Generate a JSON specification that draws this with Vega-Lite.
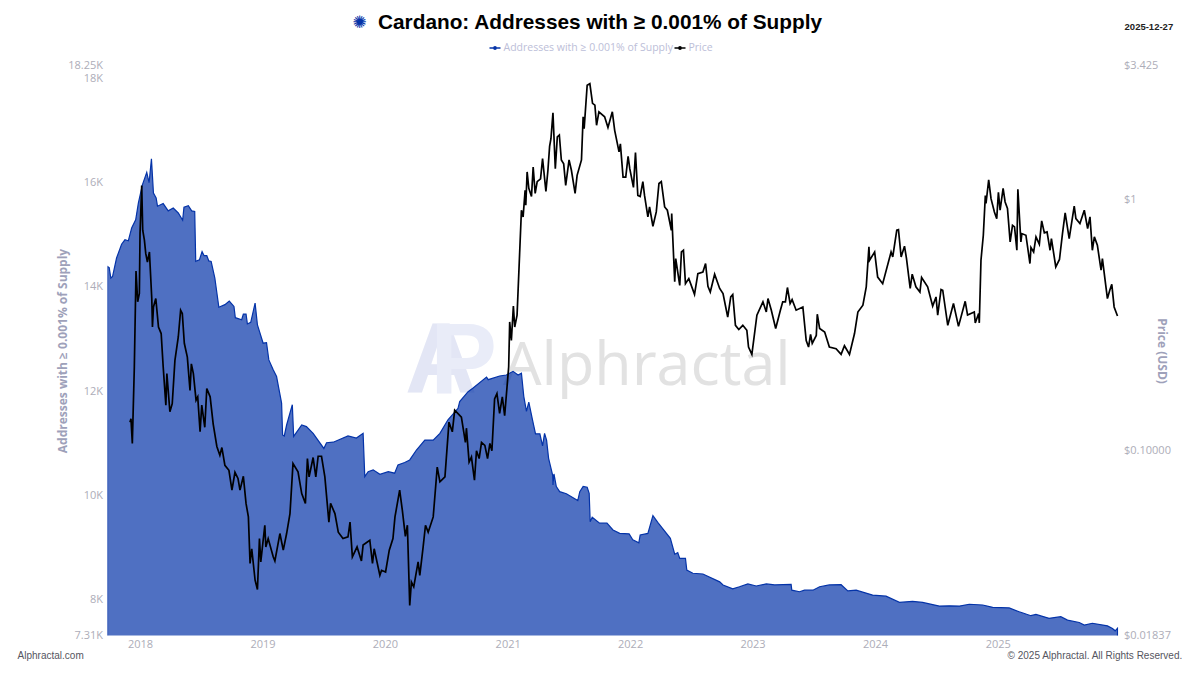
{
  "$schema": "https://vega.github.io/schema/vega-lite/v6.json",
  "width": 1011,
  "height": 570,
  "autosize": {"type": "none"},
  "padding": {"left": 107.5, "top": 65.5, "right": 81.5, "bottom": 39.5},
  "background": "#ffffff",
  "title": {
    "text": "Cardano: Addresses with ≥ 0.001% of Supply",
    "font": "Liberation Sans",
    "fontSize": 20.8,
    "fontWeight": "bold",
    "color": "#000000",
    "anchor": "middle",
    "dx": -13,
    "offset": -20
  },
  "datasets": {
    "addresses": [
      {"date":"2017-09-26","addresses":14390},{"date":"2017-10-01","addresses":14370},{"date":"2017-10-06","addresses":14170},{"date":"2017-10-11","addresses":14200},{"date":"2017-10-23","addresses":14555},{"date":"2017-11-07","addresses":14820},{"date":"2017-11-17","addresses":14905},{"date":"2017-11-27","addresses":14885},{"date":"2017-12-07","addresses":15130},{"date":"2017-12-19","addresses":15290},{"date":"2017-12-27","addresses":15610},
      {"date":"2018-01-08","addresses":15960},{"date":"2018-01-21","addresses":16200},{"date":"2018-01-28","addresses":16000},{"date":"2018-02-04","addresses":16460},{"date":"2018-02-10","addresses":15800},{"date":"2018-02-18","addresses":15710},{"date":"2018-02-22","addresses":15550},{"date":"2018-03-11","addresses":15600},{"date":"2018-03-26","addresses":15460},{"date":"2018-04-10","addresses":15515},{"date":"2018-04-25","addresses":15420},{"date":"2018-05-08","addresses":15280},{"date":"2018-05-12","addresses":15530},{"date":"2018-05-25","addresses":15560},{"date":"2018-06-04","addresses":15460},{"date":"2018-06-13","addresses":15450},{"date":"2018-06-16","addresses":14490},{"date":"2018-06-27","addresses":14520},{"date":"2018-07-05","addresses":14680},{"date":"2018-07-11","addresses":14600},{"date":"2018-07-19","addresses":14600},{"date":"2018-07-25","addresses":14500},{"date":"2018-08-01","addresses":14490},{"date":"2018-08-12","addresses":14170},{"date":"2018-08-24","addresses":13610},{"date":"2018-09-11","addresses":13660},{"date":"2018-09-24","addresses":13730},{"date":"2018-10-08","addresses":13625},{"date":"2018-10-12","addresses":13410},{"date":"2018-10-31","addresses":13370},{"date":"2018-11-05","addresses":13480},{"date":"2018-11-13","addresses":13480},{"date":"2018-11-17","addresses":13290},{"date":"2018-11-27","addresses":13320},{"date":"2018-12-10","addresses":13690},{"date":"2018-12-17","addresses":13270},
      {"date":"2019-01-03","addresses":12920},{"date":"2019-01-13","addresses":12930},{"date":"2019-01-20","addresses":12600},{"date":"2019-02-02","addresses":12410},{"date":"2019-02-12","addresses":12280},{"date":"2019-02-27","addresses":11770},{"date":"2019-03-02","addresses":11160},{"date":"2019-03-07","addresses":11140},{"date":"2019-03-14","addresses":11350},{"date":"2019-03-31","addresses":11740},{"date":"2019-04-04","addresses":11130},{"date":"2019-04-28","addresses":11350},{"date":"2019-05-12","addresses":11320},{"date":"2019-06-01","addresses":11190},{"date":"2019-07-03","addresses":10900},{"date":"2019-07-11","addresses":11010},{"date":"2019-07-31","addresses":11020},{"date":"2019-09-13","addresses":11140},{"date":"2019-10-08","addresses":11100},{"date":"2019-10-28","addresses":11190},{"date":"2019-11-02","addresses":10360},{"date":"2019-11-12","addresses":10455},{"date":"2019-11-27","addresses":10490},{"date":"2019-12-17","addresses":10405},
      {"date":"2020-01-11","addresses":10455},{"date":"2020-01-30","addresses":10425},{"date":"2020-02-09","addresses":10585},{"date":"2020-02-29","addresses":10630},{"date":"2020-03-15","addresses":10680},{"date":"2020-04-04","addresses":10870},{"date":"2020-04-29","addresses":11060},{"date":"2020-05-24","addresses":11060},{"date":"2020-06-13","addresses":11190},{"date":"2020-07-07","addresses":11450},{"date":"2020-08-06","addresses":11670},{"date":"2020-08-11","addresses":11800},{"date":"2020-09-05","addresses":11990},{"date":"2020-09-20","addresses":12060},{"date":"2020-10-30","addresses":12270},{"date":"2020-11-04","addresses":12220},{"date":"2020-12-08","addresses":12290},{"date":"2020-12-28","addresses":12310},
      {"date":"2021-01-17","addresses":12380},{"date":"2021-02-01","addresses":12310},{"date":"2021-02-11","addresses":12345},{"date":"2021-02-18","addresses":11900},{"date":"2021-02-26","addresses":11610},{"date":"2021-03-05","addresses":11790},{"date":"2021-03-16","addresses":11450},{"date":"2021-03-25","addresses":11180},{"date":"2021-04-07","addresses":11180},{"date":"2021-04-15","addresses":10950},{"date":"2021-04-21","addresses":11190},{"date":"2021-04-27","addresses":11060},{"date":"2021-05-03","addresses":10710},{"date":"2021-05-15","addresses":10390},{"date":"2021-05-16","addresses":10200},{"date":"2021-05-19","addresses":10410},{"date":"2021-05-26","addresses":10170},{"date":"2021-06-05","addresses":10070},{"date":"2021-06-25","addresses":10030},{"date":"2021-07-29","addresses":9900},{"date":"2021-08-04","addresses":10070},{"date":"2021-08-14","addresses":10170},{"date":"2021-08-26","addresses":10155},{"date":"2021-09-01","addresses":10040},{"date":"2021-09-04","addresses":9495},{"date":"2021-09-10","addresses":9580},{"date":"2021-10-02","addresses":9465},{"date":"2021-10-24","addresses":9465},{"date":"2021-11-11","addresses":9335},{"date":"2021-12-01","addresses":9270},{"date":"2021-12-29","addresses":9260},
      {"date":"2022-01-09","addresses":9145},{"date":"2022-01-27","addresses":9090},{"date":"2022-01-31","addresses":9240},{"date":"2022-02-23","addresses":9270},{"date":"2022-03-10","addresses":9610},{"date":"2022-03-25","addresses":9475},{"date":"2022-05-01","addresses":9175},{"date":"2022-05-14","addresses":8870},{"date":"2022-05-23","addresses":8900},{"date":"2022-05-29","addresses":8790},{"date":"2022-06-15","addresses":8790},{"date":"2022-06-19","addresses":8565},{"date":"2022-07-07","addresses":8505},{"date":"2022-08-06","addresses":8490},{"date":"2022-09-25","addresses":8340},{"date":"2022-10-05","addresses":8280},{"date":"2022-11-03","addresses":8205},{"date":"2022-11-23","addresses":8245},{"date":"2022-12-18","addresses":8300},
      {"date":"2023-01-12","addresses":8260},{"date":"2023-02-11","addresses":8300},{"date":"2023-03-08","addresses":8280},{"date":"2023-04-26","addresses":8290},{"date":"2023-04-28","addresses":8180},{"date":"2023-05-21","addresses":8150},{"date":"2023-06-05","addresses":8180},{"date":"2023-06-30","addresses":8180},{"date":"2023-07-20","addresses":8245},{"date":"2023-08-18","addresses":8280},{"date":"2023-09-22","addresses":8285},{"date":"2023-10-12","addresses":8165},{"date":"2023-11-06","addresses":8180},{"date":"2023-12-25","addresses":8085},
      {"date":"2024-02-03","addresses":8065},{"date":"2024-03-14","addresses":7945},{"date":"2024-04-22","addresses":7965},{"date":"2024-05-22","addresses":7945},{"date":"2024-07-11","addresses":7875},{"date":"2024-08-10","addresses":7880},{"date":"2024-09-09","addresses":7875},{"date":"2024-10-08","addresses":7910},{"date":"2024-11-17","addresses":7895},{"date":"2024-12-17","addresses":7850},
      {"date":"2025-02-04","addresses":7840},{"date":"2025-03-06","addresses":7765},{"date":"2025-04-10","addresses":7690},{"date":"2025-04-25","addresses":7715},{"date":"2025-06-03","addresses":7640},{"date":"2025-07-08","addresses":7670},{"date":"2025-07-28","addresses":7605},{"date":"2025-09-01","addresses":7560},{"date":"2025-09-16","addresses":7510},{"date":"2025-10-10","addresses":7545},{"date":"2025-11-24","addresses":7495},{"date":"2025-12-09","addresses":7445},{"date":"2025-12-17","addresses":7400},{"date":"2025-12-24","addresses":7450}
    ],
    "price": [
      {"date":"2017-12-02","price":0.130},{"date":"2017-12-05","price":0.134},{"date":"2017-12-09","price":0.107},{"date":"2017-12-15","price":0.216},{"date":"2017-12-20","price":0.520},{"date":"2017-12-25","price":0.392},{"date":"2017-12-30","price":0.423},
      {"date":"2018-01-01","price":0.733},{"date":"2018-01-06","price":1.14},{"date":"2018-01-09","price":0.756},{"date":"2018-01-14","price":0.690},{"date":"2018-01-18","price":0.611},{"date":"2018-01-23","price":0.565},{"date":"2018-01-29","price":0.619},{"date":"2018-02-05","price":0.404},{"date":"2018-02-07","price":0.311},{"date":"2018-02-10","price":0.374},{"date":"2018-02-17","price":0.404},{"date":"2018-02-25","price":0.311},{"date":"2018-03-05","price":0.293},{"date":"2018-03-11","price":0.216},{"date":"2018-03-19","price":0.152},{"date":"2018-03-22","price":0.203},{"date":"2018-03-31","price":0.143},{"date":"2018-04-07","price":0.154},{"date":"2018-04-15","price":0.229},{"date":"2018-04-25","price":0.284},{"date":"2018-05-02","price":0.363},{"date":"2018-05-07","price":0.352},{"date":"2018-05-13","price":0.268},{"date":"2018-05-22","price":0.236},{"date":"2018-05-30","price":0.174},{"date":"2018-06-03","price":0.222},{"date":"2018-06-09","price":0.203},{"date":"2018-06-17","price":0.159},{"date":"2018-06-22","price":0.164},{"date":"2018-06-29","price":0.119},{"date":"2018-07-04","price":0.152},{"date":"2018-07-13","price":0.124},{"date":"2018-07-19","price":0.177},{"date":"2018-07-29","price":0.164},{"date":"2018-08-07","price":0.128},{"date":"2018-08-18","price":0.104},{"date":"2018-08-27","price":0.0959},{"date":"2018-09-02","price":0.103},{"date":"2018-09-11","price":0.0875},{"date":"2018-09-23","price":0.0836},{"date":"2018-10-02","price":0.0697},{"date":"2018-10-11","price":0.0821},{"date":"2018-10-20","price":0.0776},{"date":"2018-10-26","price":0.0697},{"date":"2018-11-05","price":0.0791},{"date":"2018-11-13","price":0.0617},{"date":"2018-11-20","price":0.0545},{"date":"2018-11-25","price":0.0356},{"date":"2018-11-30","price":0.0407},{"date":"2018-12-10","price":0.0305},{"date":"2018-12-17","price":0.0280},{"date":"2018-12-23","price":0.0447},{"date":"2018-12-27","price":0.0361},
      {"date":"2019-01-08","price":0.0505},{"date":"2019-01-11","price":0.0414},{"date":"2019-01-18","price":0.0447},{"date":"2019-02-02","price":0.0378},{"date":"2019-02-07","price":0.0364},{"date":"2019-02-22","price":0.0468},{"date":"2019-03-04","price":0.0402},{"date":"2019-03-14","price":0.0468},{"date":"2019-03-24","price":0.0562},{"date":"2019-04-02","price":0.0889},{"date":"2019-04-17","price":0.0824},{"date":"2019-04-28","price":0.0675},{"date":"2019-05-09","price":0.0617},{"date":"2019-05-15","price":0.0931},{"date":"2019-05-20","price":0.0787},{"date":"2019-06-01","price":0.0940},{"date":"2019-06-09","price":0.0787},{"date":"2019-06-16","price":0.0951},{"date":"2019-06-26","price":0.0951},{"date":"2019-07-06","price":0.0787},{"date":"2019-07-18","price":0.0520},{"date":"2019-07-23","price":0.0617},{"date":"2019-08-05","price":0.0562},{"date":"2019-08-15","price":0.0474},{"date":"2019-08-29","price":0.0447},{"date":"2019-09-13","price":0.0454},{"date":"2019-09-19","price":0.0520},{"date":"2019-09-26","price":0.0378},{"date":"2019-10-10","price":0.0414},{"date":"2019-10-23","price":0.0364},{"date":"2019-10-28","price":0.0421},{"date":"2019-11-17","price":0.0440},{"date":"2019-11-25","price":0.0356},{"date":"2019-11-30","price":0.0407},{"date":"2019-12-17","price":0.0319},{"date":"2019-12-22","price":0.0334},
      {"date":"2020-01-03","price":0.0329},{"date":"2020-01-14","price":0.0402},{"date":"2020-01-25","price":0.0447},{"date":"2020-01-31","price":0.0545},{"date":"2020-02-14","price":0.0697},{"date":"2020-02-22","price":0.0579},{"date":"2020-03-02","price":0.0456},{"date":"2020-03-08","price":0.0505},{"date":"2020-03-15","price":0.0242},{"date":"2020-03-20","price":0.0300},{"date":"2020-03-27","price":0.0287},{"date":"2020-04-09","price":0.0361},{"date":"2020-04-14","price":0.0319},{"date":"2020-04-24","price":0.0414},{"date":"2020-05-01","price":0.0505},{"date":"2020-05-09","price":0.0474},{"date":"2020-05-24","price":0.0545},{"date":"2020-06-05","price":0.0861},{"date":"2020-06-13","price":0.0752},{"date":"2020-06-28","price":0.0787},{"date":"2020-07-10","price":0.130},{"date":"2020-07-20","price":0.119},{"date":"2020-07-27","price":0.145},{"date":"2020-08-16","price":0.136},{"date":"2020-08-28","price":0.108},{"date":"2020-08-31","price":0.123},{"date":"2020-09-08","price":0.0902},{"date":"2020-09-15","price":0.0944},{"date":"2020-09-24","price":0.0763},{"date":"2020-09-30","price":0.100},{"date":"2020-10-08","price":0.0931},{"date":"2020-10-15","price":0.108},{"date":"2020-10-25","price":0.105},{"date":"2020-11-02","price":0.0931},{"date":"2020-11-09","price":0.107},{"date":"2020-11-15","price":0.100},{"date":"2020-11-23","price":0.161},{"date":"2020-11-30","price":0.169},{"date":"2020-12-08","price":0.141},{"date":"2020-12-16","price":0.164},{"date":"2020-12-23","price":0.138},{"date":"2020-12-30","price":0.179},
      {"date":"2021-01-04","price":0.216},{"date":"2021-01-07","price":0.326},{"date":"2021-01-12","price":0.275},{"date":"2021-01-18","price":0.377},{"date":"2021-01-22","price":0.311},{"date":"2021-01-29","price":0.347},{"date":"2021-02-11","price":0.908},{"date":"2021-02-16","price":0.854},{"date":"2021-02-22","price":1.09},{"date":"2021-02-24","price":0.951},{"date":"2021-02-28","price":1.29},{"date":"2021-03-05","price":1.11},{"date":"2021-03-13","price":1.03},{"date":"2021-03-18","price":1.35},{"date":"2021-03-24","price":1.06},{"date":"2021-03-30","price":1.18},{"date":"2021-04-09","price":1.21},{"date":"2021-04-15","price":1.46},{"date":"2021-04-25","price":1.08},{"date":"2021-05-01","price":1.31},{"date":"2021-05-06","price":1.63},{"date":"2021-05-10","price":1.75},{"date":"2021-05-16","price":2.22},{"date":"2021-05-23","price":1.33},{"date":"2021-05-29","price":1.78},{"date":"2021-06-04","price":1.81},{"date":"2021-06-10","price":1.44},{"date":"2021-06-17","price":1.39},{"date":"2021-06-23","price":1.14},{"date":"2021-07-03","price":1.44},{"date":"2021-07-10","price":1.31},{"date":"2021-07-21","price":1.06},{"date":"2021-07-27","price":1.25},{"date":"2021-08-09","price":1.44},{"date":"2021-08-14","price":2.14},{"date":"2021-08-17","price":1.92},{"date":"2021-08-26","price":2.86},{"date":"2021-09-03","price":2.90},{"date":"2021-09-11","price":2.42},{"date":"2021-09-18","price":2.38},{"date":"2021-09-23","price":1.98},{"date":"2021-09-30","price":2.24},{"date":"2021-10-17","price":2.14},{"date":"2021-10-27","price":1.94},{"date":"2021-11-09","price":2.24},{"date":"2021-11-16","price":1.89},{"date":"2021-11-29","price":1.55},{"date":"2021-12-03","price":1.67},{"date":"2021-12-11","price":1.23},{"date":"2021-12-19","price":1.23},{"date":"2021-12-26","price":1.49},{"date":"2021-12-31","price":1.33},
      {"date":"2022-01-11","price":1.12},{"date":"2022-01-17","price":1.54},{"date":"2022-01-24","price":1.04},{"date":"2022-01-31","price":1.03},{"date":"2022-02-08","price":1.18},{"date":"2022-02-13","price":1.04},{"date":"2022-02-23","price":0.854},{"date":"2022-02-28","price":0.936},{"date":"2022-03-10","price":0.784},{"date":"2022-03-20","price":0.894},{"date":"2022-03-28","price":1.16},{"date":"2022-04-04","price":1.18},{"date":"2022-04-14","price":0.936},{"date":"2022-04-22","price":0.908},{"date":"2022-05-04","price":0.756},{"date":"2022-05-05","price":0.881},{"date":"2022-05-14","price":0.471},{"date":"2022-05-17","price":0.583},{"date":"2022-05-29","price":0.456},{"date":"2022-06-03","price":0.619},{"date":"2022-06-09","price":0.629},{"date":"2022-06-15","price":0.463},{"date":"2022-06-25","price":0.485},{"date":"2022-07-12","price":0.420},{"date":"2022-07-22","price":0.508},{"date":"2022-08-06","price":0.515},{"date":"2022-08-14","price":0.557},{"date":"2022-08-21","price":0.452},{"date":"2022-08-28","price":0.429},{"date":"2022-09-10","price":0.505},{"date":"2022-09-25","price":0.443},{"date":"2022-10-05","price":0.423},{"date":"2022-10-19","price":0.341},{"date":"2022-10-28","price":0.410},{"date":"2022-11-03","price":0.419},{"date":"2022-11-11","price":0.316},{"date":"2022-11-21","price":0.304},{"date":"2022-12-03","price":0.316},{"date":"2022-12-15","price":0.302},{"date":"2022-12-20","price":0.259},{"date":"2022-12-30","price":0.242},
      {"date":"2023-01-14","price":0.347},{"date":"2023-02-01","price":0.392},{"date":"2023-02-11","price":0.357},{"date":"2023-02-16","price":0.404},{"date":"2023-02-26","price":0.363},{"date":"2023-03-11","price":0.307},{"date":"2023-03-25","price":0.363},{"date":"2023-04-01","price":0.392},{"date":"2023-04-09","price":0.392},{"date":"2023-04-15","price":0.447},{"date":"2023-04-23","price":0.386},{"date":"2023-04-29","price":0.400},{"date":"2023-05-11","price":0.363},{"date":"2023-05-31","price":0.374},{"date":"2023-06-10","price":0.275},{"date":"2023-06-17","price":0.259},{"date":"2023-06-23","price":0.291},{"date":"2023-06-28","price":0.268},{"date":"2023-07-10","price":0.288},{"date":"2023-07-13","price":0.350},{"date":"2023-07-20","price":0.307},{"date":"2023-08-04","price":0.297},{"date":"2023-08-18","price":0.259},{"date":"2023-09-07","price":0.255},{"date":"2023-09-22","price":0.242},{"date":"2023-10-02","price":0.262},{"date":"2023-10-17","price":0.242},{"date":"2023-11-01","price":0.293},{"date":"2023-11-11","price":0.357},{"date":"2023-11-26","price":0.380},{"date":"2023-12-06","price":0.450},{"date":"2023-12-14","price":0.649},{"date":"2023-12-16","price":0.574},{"date":"2023-12-31","price":0.619},
      {"date":"2024-01-09","price":0.492},{"date":"2024-01-24","price":0.463},{"date":"2024-02-18","price":0.619},{"date":"2024-02-23","price":0.592},{"date":"2024-03-06","price":0.756},{"date":"2024-03-11","price":0.760},{"date":"2024-03-19","price":0.592},{"date":"2024-03-29","price":0.653},{"date":"2024-04-04","price":0.583},{"date":"2024-04-15","price":0.443},{"date":"2024-04-21","price":0.505},{"date":"2024-05-02","price":0.450},{"date":"2024-05-14","price":0.429},{"date":"2024-05-19","price":0.490},{"date":"2024-06-06","price":0.450},{"date":"2024-06-21","price":0.377},{"date":"2024-07-01","price":0.410},{"date":"2024-07-06","price":0.347},{"date":"2024-07-16","price":0.439},{"date":"2024-07-21","price":0.436},{"date":"2024-08-05","price":0.316},{"date":"2024-08-22","price":0.386},{"date":"2024-09-06","price":0.313},{"date":"2024-09-26","price":0.394},{"date":"2024-10-03","price":0.347},{"date":"2024-10-23","price":0.357},{"date":"2024-10-26","price":0.323},{"date":"2024-11-05","price":0.352},{"date":"2024-11-07","price":0.323},{"date":"2024-11-12","price":0.574},{"date":"2024-11-19","price":0.722},{"date":"2024-11-25","price":1.04},{"date":"2024-11-27","price":0.966},{"date":"2024-12-05","price":1.20},{"date":"2024-12-12","price":1.01},{"date":"2024-12-22","price":0.894},{"date":"2024-12-29","price":0.841},
      {"date":"2025-01-03","price":1.07},{"date":"2025-01-08","price":0.908},{"date":"2025-01-17","price":1.11},{"date":"2025-01-23","price":0.980},{"date":"2025-01-30","price":0.923},{"date":"2025-02-07","price":0.679},{"date":"2025-02-14","price":0.791},{"date":"2025-02-20","price":0.779},{"date":"2025-02-27","price":0.629},{"date":"2025-03-02","price":1.10},{"date":"2025-03-11","price":0.679},{"date":"2025-03-14","price":0.733},{"date":"2025-03-26","price":0.722},{"date":"2025-04-07","price":0.557},{"date":"2025-04-10","price":0.645},{"date":"2025-04-18","price":0.619},{"date":"2025-04-25","price":0.711},{"date":"2025-05-05","price":0.665},{"date":"2025-05-12","price":0.823},{"date":"2025-05-20","price":0.738},{"date":"2025-05-28","price":0.744},{"date":"2025-06-06","price":0.629},{"date":"2025-06-10","price":0.700},{"date":"2025-06-23","price":0.540},{"date":"2025-07-04","price":0.578},{"date":"2025-07-13","price":0.733},{"date":"2025-07-21","price":0.886},{"date":"2025-08-02","price":0.700},{"date":"2025-08-17","price":0.942},{"date":"2025-08-22","price":0.841},{"date":"2025-09-03","price":0.804},{"date":"2025-09-16","price":0.908},{"date":"2025-09-26","price":0.768},{"date":"2025-10-03","price":0.854},{"date":"2025-10-10","price":0.629},{"date":"2025-10-16","price":0.711},{"date":"2025-10-25","price":0.659},{"date":"2025-11-05","price":0.524},{"date":"2025-11-09","price":0.583},{"date":"2025-11-19","price":0.456},{"date":"2025-11-24","price":0.404},{"date":"2025-12-01","price":0.436},{"date":"2025-12-07","price":0.460},{"date":"2025-12-14","price":0.374},{"date":"2025-12-24","price":0.344}
    ]
  },
  "layer": [
    {
      "layer": [
        {
          "data": {"values": [{"label": "A"}]},
          "mark": {"type": "text", "font": "Liberation Sans", "fontWeight": "bold", "fontSize": 100, "color": "#e3e6f5", "align": "left", "baseline": "alphabetic"},
          "encoding": {
            "x": {"datum": {"year": 2020, "month": 3, "date": 1}, "type": "temporal", "title": null},
            "y": {"datum": 11967, "type": "quantitative"},
            "text": {"field": "label"}
          }
        },
        {
          "data": {"values": [{"label": "P"}]},
          "mark": {"type": "text", "font": "Liberation Sans", "fontWeight": "bold", "fontSize": 100, "color": "#e9ecf8", "align": "left", "baseline": "alphabetic"},
          "encoding": {
            "x": {"datum": {"year": 2020, "month": 5, "date": 15}, "type": "temporal", "title": null},
            "y": {"datum": 11967, "type": "quantitative"},
            "text": {"field": "label"}
          }
        },
        {
          "data": {"values": [{"label": "Alphractal"}]},
          "mark": {"type": "text", "font": "Open Sans", "fontSize": 61, "color": "#e2e2e2", "align": "left", "baseline": "alphabetic"},
          "encoding": {
            "x": {"datum": {"year": 2020, "month": 12, "date": 18}, "type": "temporal", "title": null},
            "y": {"datum": 12120, "type": "quantitative"},
            "text": {"field": "label"}
          }
        },
        {
          "data": {"name": "addresses"},
          "mark": {"type": "area", "fill": "#0433a8", "fillOpacity": 0.7, "strokeWidth": 1.2, "clip": true},
          "encoding": {
            "x": {
              "field": "date",
              "type": "temporal",
              "title": null,
              "scale": {"domain": ["2017-09-26", "2025-12-27"]}
            },
            "y": {
              "field": "addresses",
              "type": "quantitative",
              "title": "Addresses with ≥ 0.001% of Supply",
              "scale": {"domain": [7310, 18250], "nice": false, "zero": false},
              "axis": {
                "values": [7310, 8000, 10000, 12000, 14000, 16000, 18000, 18250],
                "labelExpr": "datum.value == 18250 ? '18.25K' : datum.value == 7310 ? '7.31K' : (datum.value / 1000) + 'K'",
                "labelOverlap": false,
                "grid": false, "domain": false, "ticks": false,
                "labelColor": "#adadb8", "labelFont": "Open Sans", "labelFontSize": 11, "labelPadding": 5,
                "titleColor": "#9ea1ba", "titleFont": "Open Sans", "titleFontSize": 12, "titleFontWeight": "bold", "titleX": -38, "titleY": 285
              }
            },
            "stroke": {
              "datum": "Addresses with ≥ 0.001% of Supply",
              "scale": {"domain": ["Addresses with ≥ 0.001% of Supply", "Price"], "range": ["#0433a8", "#000000"]},
              "legend": {
                "title": null,
                "orient": "none",
                "legendX": 381,
                "legendY": -24,
                "direction": "horizontal",
                "symbolType": "M-1,0H1M0.2,0A0.2,0.2 0 1 1 -0.2,0A0.2,0.2 0 1 1 0.2,0",
                "symbolSize": 121,
                "symbolStrokeWidth": 1.6,
                "symbolOpacity": 1,
                "labelColor": "#bcbed8",
                "labelFont": "Open Sans",
                "labelFontSize": 10.5,
                "labelOffset": 2,
                "labelLimit": 400,
                "columnPadding": -4
              }
            }
          }
        },
        {
          "data": {"values": [{"label": "✺"}]},
          "mark": {"type": "text", "font": "DejaVu Sans", "fontSize": 17, "color": "#0433a8", "align": "center", "baseline": "middle"},
          "encoding": {
            "x": {"datum": {"year": 2019, "month": 10, "date": 18}, "type": "temporal", "title": null},
            "y": {"datum": 19075, "type": "quantitative"},
            "text": {"field": "label"}
          }
        },
        {
          "data": {"values": [{"label": "2025-12-27"}]},
          "mark": {"type": "text", "font": "Liberation Sans", "fontWeight": "bold", "fontSize": 9.5, "color": "#222222", "align": "right", "baseline": "middle"},
          "encoding": {
            "x": {"datum": {"year": 2026, "month": 6, "date": 8}, "type": "temporal", "title": null},
            "y": {"datum": 18985, "type": "quantitative"},
            "text": {"field": "label"}
          }
        },
        {
          "data": {"values": [{"label": "Alphractal.com"}]},
          "mark": {"type": "text", "font": "Liberation Sans", "fontSize": 10, "color": "#555560", "align": "left", "baseline": "middle"},
          "encoding": {
            "x": {"datum": {"year": 2017, "month": 1, "date": 1}, "type": "temporal", "title": null},
            "y": {"datum": 6915, "type": "quantitative"},
            "text": {"field": "label"}
          }
        },
        {
          "data": {"values": [{"label": "© 2025 Alphractal. All Rights Reserved."}]},
          "mark": {"type": "text", "font": "Liberation Sans", "fontSize": 10, "color": "#555560", "align": "right", "baseline": "middle"},
          "encoding": {
            "x": {"datum": {"year": 2026, "month": 7, "date": 5}, "type": "temporal", "title": null},
            "y": {"datum": 6915, "type": "quantitative"},
            "text": {"field": "label"}
          }
        }
      ]
    },
    {
      "data": {"name": "price"},
      "mark": {"type": "line", "strokeWidth": 1.7, "interpolate": "linear"},
      "encoding": {
        "x": {"field": "date", "type": "temporal", "title": null},
        "y": {
          "field": "price",
          "type": "quantitative",
          "title": "Price (USD)",
          "scale": {"type": "log", "domain": [0.01837, 3.425], "nice": false},
          "axis": {
            "orient": "right",
            "values": [0.01837, 0.1, 1, 3.425],
            "labelExpr": "datum.value == 1 ? '$1' : datum.value == 0.1 ? '$0.10000' : '$' + datum.value",
            "labelOverlap": false,
            "grid": false, "domain": false, "ticks": false,
            "labelColor": "#adadb8", "labelFont": "Open Sans", "labelFontSize": 11, "labelPadding": 5,
            "titleColor": "#9ea1ba", "titleFont": "Open Sans", "titleFontSize": 12, "titleFontWeight": "bold", "titleX": 36, "titleY": 285
          }
        },
        "stroke": {"datum": "Price"}
      }
    }
  ],
  "resolve": {"scale": {"y": "independent"}},
  "config": {
    "view": {"stroke": null},
    "axisX": {
      "labelExpr": "timeFormat(datum.value, '%Y')",
      "tickCount": "year",
      "grid": false,
      "domain": false,
      "ticks": false,
      "labelColor": "#adadb8",
      "labelFont": "Open Sans",
      "labelFontSize": 11,
      "labelPadding": 3
    }
  }
}
